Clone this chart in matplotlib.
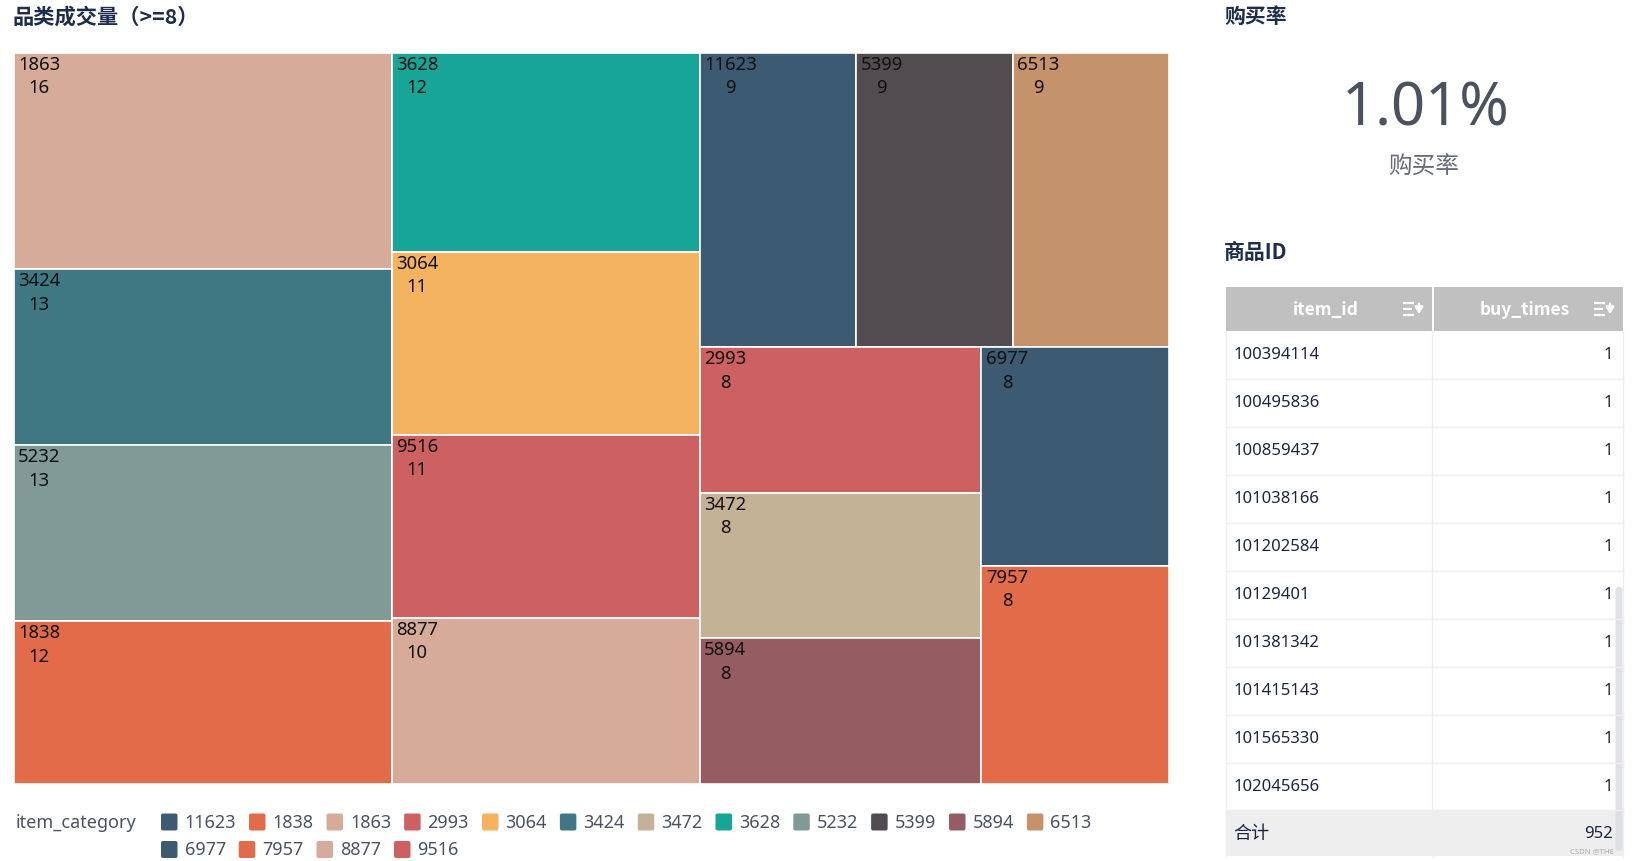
import matplotlib
matplotlib.use("Agg")
import matplotlib.pyplot as plt
from matplotlib.patches import Rectangle, FancyBboxPatch

# ---------------- data ----------------
categories = ["11623", "1838", "1863", "2993", "3064", "3424", "3472", "3628",
              "5232", "5399", "5894", "6513", "6977", "7957", "8877", "9516"]
volumes = [9, 12, 16, 8, 11, 13, 8, 12, 13, 9, 8, 9, 8, 8, 10, 11]
colors = ["#3d5a73", "#e26c4a", "#d6ab9a", "#cd6162", "#f4b35f", "#3f7882",
          "#c4b296", "#17a597", "#819a95", "#524c51", "#955c61", "#c5936b",
          "#3d5a73", "#e26c4a", "#d6ab9a", "#cd6162"]
buy_rate_text = "1.01%"
item_ids = ["100394114", "100495836", "100859437", "101038166", "101202584",
            "10129401", "101381342", "101415143", "101565330", "102045656"]
buy_times = [1, 1, 1, 1, 1, 1, 1, 1, 1, 1]
buy_total = 952

# ---------------- setup ----------------
W, H = 1632, 862
fig = plt.figure(figsize=(W / 100, H / 100), dpi=100)
ax = fig.add_axes([0, 0, 1, 1])
ax.set_xlim(0, W)
ax.set_ylim(H, 0)
ax.axis("off")

CJK = ["Noto Sans CJK SC", "DejaVu Sans"]
LAT = ["Noto Sans", "DejaVu Sans"]
NAVY = "#1f2d4d"


# ---------------- squarified treemap (ECharts style) ----------------
def squarify(values, x, y, w, h, ratio=0.5 * (1 + 5 ** 0.5)):
    total = float(sum(values))
    areas = [v * w * h / total for v in values]
    rect = {"x": x, "y": y, "w": w, "h": h}
    out = [None] * len(values)

    def worst(row, L):
        s = sum(areas[i] for i in row)
        amax = max(areas[i] for i in row)
        amin = min(areas[i] for i in row)
        f = L * L * ratio
        return max(f * amax / (s * s), (s * s) / (f * amin))

    def position(row, L, flush):
        s = sum(areas[i] for i in row)
        horiz = (L == rect["w"])
        other = s / L if L else 0
        lim = rect["h"] if horiz else rect["w"]
        if flush or other > lim:
            other = lim
        if horiz:
            last = rect["x"]
            end = rect["x"] + rect["w"]
        else:
            last = rect["y"]
            end = rect["y"] + rect["h"]
        for k, i in enumerate(row):
            step = areas[i] / other if other else 0
            remain = end - last
            mod = remain if (k == len(row) - 1 or remain < step) else step
            if horiz:
                out[i] = (last, rect["y"], mod, other)
            else:
                out[i] = (rect["x"], last, other, mod)
            last += mod
        if horiz:
            rect["y"] += other
            rect["h"] -= other
        else:
            rect["x"] += other
            rect["w"] -= other

    row = []
    best = float("inf")
    L = min(rect["w"], rect["h"])
    i = 0
    while i < len(values):
        row.append(i)
        sc = worst(row, L)
        if sc <= best:
            i += 1
            best = sc
        else:
            row.pop()
            position(row, L, False)
            L = min(rect["w"], rect["h"])
            row = []
            best = float("inf")
    if row:
        position(row, L, True)
    return out


order = sorted(range(len(categories)), key=lambda k: -volumes[k])
sorted_vals = [volumes[k] for k in order]
tx0, ty0, tw, th = 13.5, 53.5, 1155.5, 731.5
layout = squarify(sorted_vals, tx0, ty0, tw, th)

for pos, k in enumerate(order):
    x, y, w, h = layout[pos]
    ax.add_patch(Rectangle((x, y), w, h, facecolor=colors[k],
                           edgecolor="white", linewidth=1.2))
    ax.text(x + 4.5, y + 2, f"{categories[k]}\n{volumes[k]}", ha="left", va="top",
            multialignment="center", fontsize=13.3, color="#111111",
            family=LAT, linespacing=1.38)

# title
ax.text(13, 17, "品类成交量（>=8）", fontsize=15.3, fontweight="bold",
        color=NAVY, family=CJK, ha="left", va="center")

# ---------------- legend (flow layout) ----------------
renderer = fig.canvas.get_renderer()
ax.text(15.5, 823, "item_category", fontsize=13, color="#4a5262",
        family=LAT, ha="left", va="center")
lx0, lmax = 161.0, 1169.0
lx, ly = lx0, 823.0
for cat, col in zip(categories, colors):
    t = ax.text(0, ly, cat, fontsize=13, color="#4a5262", family=LAT,
                ha="left", va="center")
    bb = t.get_window_extent(renderer)
    tw_ = bb.width
    if lx + 23.5 + tw_ > lmax:
        lx = lx0
        ly += 27.5
    t.set_position((lx + 23.5, ly))
    ax.add_patch(FancyBboxPatch((lx, ly - 8.5), 16.5, 17,
                                boxstyle="round,pad=0,rounding_size=2",
                                facecolor=col, edgecolor="none"))
    lx = lx + 23.5 + tw_ + 13

# ---------------- right panel ----------------
ax.text(1224, 16, "购买率", fontsize=15, fontweight="bold", color=NAVY,
        family=CJK, ha="left", va="center")
ax.text(1426, 109, buy_rate_text, fontsize=43, color="#4a5260",
        family=LAT, ha="center", va="center")
ax.text(1424, 167, "购买率", fontsize=17, color="#666b75",
        family=CJK, ha="center", va="center")
ax.text(1224, 253, "商品ID", fontsize=15, fontweight="bold", color=NAVY,
        family=CJK, ha="left", va="center")

# table
tbl_l, tbl_m, tbl_r = 1226, 1432, 1623
hdr_t, hdr_b = 288, 331.5
row_h = 48.0
ax.add_patch(Rectangle((tbl_l, hdr_t), tbl_m - tbl_l, hdr_b - hdr_t,
                       facecolor="#c0c0c0", edgecolor="none"))
ax.add_patch(Rectangle((tbl_m + 1.5, hdr_t), tbl_r - tbl_m - 1.5, hdr_b - hdr_t,
                       facecolor="#c0c0c0", edgecolor="none"))
hy = (hdr_t + hdr_b) / 2
ax.text(1359, hy, "item_id", fontsize=12.5, fontweight="bold", color="white",
        family=CJK, ha="right", va="center")
ax.text(1570, hy, "buy_times", fontsize=12.5, fontweight="bold", color="white",
        family=CJK, ha="right", va="center")


def sort_icon(x, y):
    for j, ww in enumerate([11, 9, 11]):
        yy = y - 6 + j * 6
        ax.plot([x, x + ww], [yy, yy], color="white", lw=1.6,
                solid_capstyle="butt")
    ax.annotate("", xy=(x + 16, y + 8), xytext=(x + 16, y - 8),
                arrowprops=dict(arrowstyle="-|>,head_width=0.25,head_length=0.4",
                                color="white", lw=1.6))


sort_icon(1403, hy)
sort_icon(1594, hy)

for r, (iid, bt) in enumerate(zip(item_ids, buy_times)):
    top = hdr_b + r * row_h
    cy = top + row_h / 2
    ax.text(1234, cy, iid, fontsize=12, color="#1b2540", family=LAT,
            ha="left", va="center")
    ax.text(1613, cy, str(bt), fontsize=12, color="#1b2540", family=LAT,
            ha="right", va="center")
    ax.plot([tbl_l, tbl_r], [top + row_h, top + row_h], color="#eeeeef", lw=1)

tot_t = hdr_b + len(item_ids) * row_h
tot_b = tot_t + 46
ax.add_patch(Rectangle((tbl_l, tot_t), tbl_r - tbl_l, tot_b - tot_t,
                       facecolor="#eeeeee", edgecolor="none"))
ax.plot([tbl_m, tbl_m], [hdr_b, tot_b], color="#eeeeef", lw=1)
ax.plot([tbl_l, tbl_l], [hdr_b, tot_b], color="#eeeeef", lw=1)
ax.plot([tbl_r, tbl_r], [hdr_b, tot_b], color="#eeeeef", lw=1)
ax.text(1233, (tot_t + tot_b) / 2, "合计", fontsize=13, color="#1b2540",
        family=CJK, ha="left", va="center")
ax.text(1613, (tot_t + tot_b) / 2, str(buy_total), fontsize=12, color="#1b2540",
        family=LAT, ha="right", va="center")

# scrollbar
ax.add_patch(FancyBboxPatch((1615.5, 588), 7, 264,
                            boxstyle="round,pad=0,rounding_size=3.5",
                            facecolor="#dddee3", edgecolor="none", alpha=0.9))
ax.text(1592, 852, "CSDN @THE", fontsize=5.5, color="#a8a8a8", family=LAT,
        ha="center", va="center")

fig.savefig("out.png", dpi=100)
